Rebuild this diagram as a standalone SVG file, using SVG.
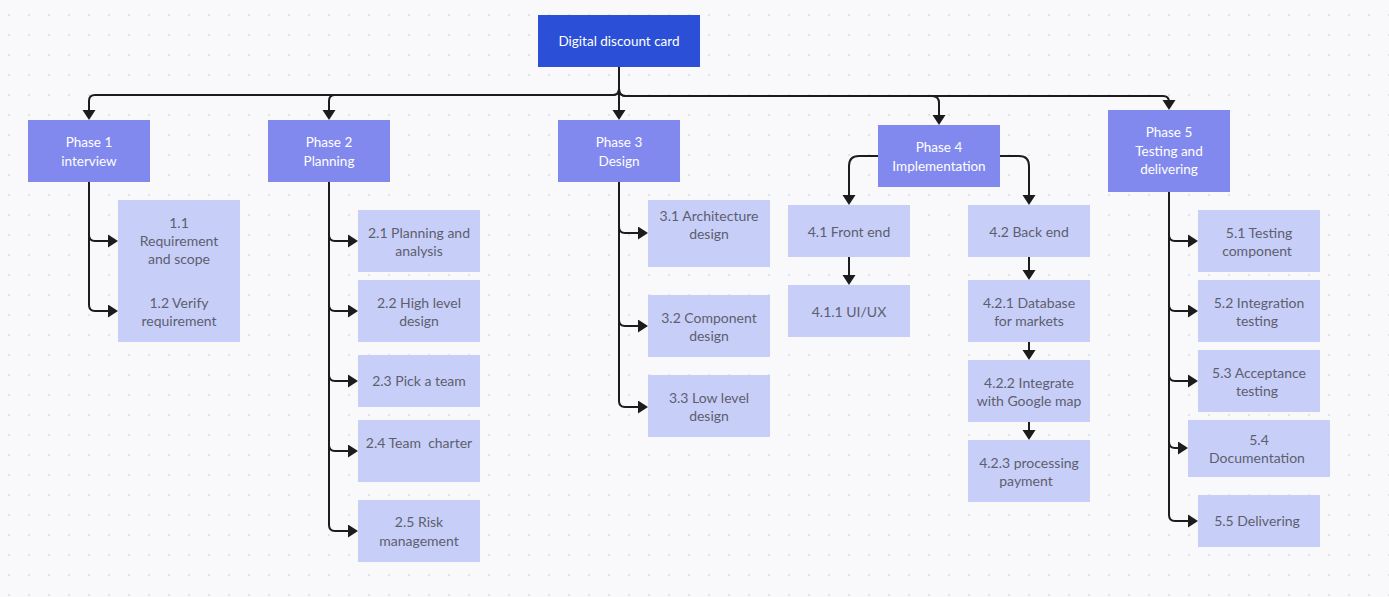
<svg xmlns="http://www.w3.org/2000/svg" width="1389" height="597" viewBox="0 0 1389 597">
  <defs>
    <pattern id="dots" x="-1" y="5" width="20" height="20" patternUnits="userSpaceOnUse">
      <circle cx="10" cy="10" r="1.1" fill="#dcdde6"/>
    </pattern>
    <marker id="arrow" markerWidth="13" markerHeight="14" refX="2" refY="6.5" orient="auto" markerUnits="userSpaceOnUse">
      <path d="M0,0 L10,6.5 L0,13 z" fill="#1c1c1c"/>
    </marker>
    <style>
      .root { fill: #2b4fd6; }
      .phase { fill: #8189ee; }
      .task { fill: #c7cff9; }
      .lbl-w { font-family: Lato, "Liberation Sans", sans-serif; font-size: 13.5px; fill: #ffffff; text-anchor: middle; }
      .lbl { font-family: Lato, "Liberation Sans", sans-serif; font-size: 14px; fill: #5e5e6e; text-anchor: middle; }
      .conn path { fill: none; stroke: #1c1c1c; stroke-width: 2; marker-end: url(#arrow); }
    </style>
  </defs>

  <!-- canvas -->
  <rect width="1389" height="597" fill="#f9f9fb"/>
  <rect width="1389" height="597" fill="url(#dots)"/>

  <!-- connectors -->
  <g id="connectors" class="conn">
    <!-- root to phases -->
    <path d="M619 67 V89 Q619 95 613 95 H95 Q89 95 89 101 V112"/>
    <path d="M619 67 V89 Q619 95 613 95 H335 Q329 95 329 101 V112"/>
    <path d="M619 67 V112"/>
    <path d="M619 67 V89 Q619 96 626 96 H932 Q939 96 939 103 V117"/>
    <path d="M619 67 V89 Q619 96 626 96 H1163 Q1169 96 1169 102"/>
    <!-- phase 1 -->
    <path d="M89 182 V235 Q89 241 95 241 H110"/>
    <path d="M89 182 V305 Q89 311 95 311 H110"/>
    <!-- phase 2 -->
    <path d="M329 182 V235 Q329 241 335 241 H350"/>
    <path d="M329 182 V305 Q329 311 335 311 H350"/>
    <path d="M329 182 V375 Q329 381 335 381 H350"/>
    <path d="M329 182 V445 Q329 451 335 451 H350"/>
    <path d="M329 182 V525 Q329 531 335 531 H350"/>
    <!-- phase 3 -->
    <path d="M619 182 V227 Q619 233 625 233 H640"/>
    <path d="M619 182 V320 Q619 326 625 326 H640"/>
    <path d="M619 182 V401 Q619 407 625 407 H640"/>
    <!-- phase 4 -->
    <path d="M878 156 H859 Q849 156 849 166 V197"/>
    <path d="M1000 156 H1019 Q1029 156 1029 166 V197"/>
    <path d="M849 257 V277"/>
    <path d="M1029 257 V272"/>
    <path d="M1029 342 V352"/>
    <path d="M1029 422 V432"/>
    <!-- phase 5 -->
    <path d="M1169 192 V235 Q1169 241 1175 241 H1190"/>
    <path d="M1169 192 V305 Q1169 311 1175 311 H1190"/>
    <path d="M1169 192 V375 Q1169 381 1175 381 H1190"/>
    <path d="M1169 192 V442 Q1169 448 1175 448 H1180"/>
    <path d="M1169 192 V515 Q1169 521 1175 521 H1190"/>
  </g>

  <!-- root -->
  <g id="root">
    <rect class="root" x="538" y="15" width="162" height="52"/>
    <text class="lbl-w" x="619" y="46">Digital discount card</text>
  </g>

  <!-- phases -->
  <g id="phase1">
    <rect class="phase" x="28" y="120" width="122" height="62"/>
    <text class="lbl-w" x="89" y="147">Phase 1</text>
    <text class="lbl-w" x="89" y="166">interview</text>
  </g>
  <g id="phase2">
    <rect class="phase" x="268" y="120" width="122" height="62"/>
    <text class="lbl-w" x="329" y="147">Phase 2</text>
    <text class="lbl-w" x="329" y="166">Planning</text>
  </g>
  <g id="phase3">
    <rect class="phase" x="558" y="120" width="122" height="62"/>
    <text class="lbl-w" x="619" y="147">Phase 3</text>
    <text class="lbl-w" x="619" y="166">Design</text>
  </g>
  <g id="phase4">
    <rect class="phase" x="878" y="125" width="122" height="62"/>
    <text class="lbl-w" x="939" y="152">Phase 4</text>
    <text class="lbl-w" x="939" y="171">Implementation</text>
  </g>
  <g id="phase5">
    <rect class="phase" x="1108" y="110" width="122" height="82"/>
    <text class="lbl-w" x="1169" y="137">Phase 5</text>
    <text class="lbl-w" x="1169" y="156">Testing and</text>
    <text class="lbl-w" x="1169" y="174">delivering</text>
  </g>

  <!-- phase 1 tasks -->
  <g id="t1-1">
    <rect class="task" x="118" y="200" width="122" height="71"/>
    <text class="lbl" x="179" y="228">1.1</text>
    <text class="lbl" x="179" y="246">Requirement</text>
    <text class="lbl" x="179" y="264">and scope</text>
  </g>
  <g id="t1-2">
    <rect class="task" x="118" y="271" width="122" height="71"/>
    <text class="lbl" x="179" y="308">1.2 Verify</text>
    <text class="lbl" x="179" y="326">requirement</text>
  </g>

  <!-- phase 2 tasks -->
  <g id="t2-1">
    <rect class="task" x="358" y="210" width="122" height="62"/>
    <text class="lbl" x="419" y="238">2.1 Planning and</text>
    <text class="lbl" x="419" y="256">analysis</text>
  </g>
  <g id="t2-2">
    <rect class="task" x="358" y="280" width="122" height="62"/>
    <text class="lbl" x="419" y="308">2.2 High level</text>
    <text class="lbl" x="419" y="326">design</text>
  </g>
  <g id="t2-3">
    <rect class="task" x="358" y="355" width="122" height="52"/>
    <text class="lbl" x="419" y="386">2.3 Pick a team</text>
  </g>
  <g id="t2-4">
    <rect class="task" x="358" y="420" width="122" height="62"/>
    <text class="lbl" x="419" y="448" xml:space="preserve">2.4 Team  charter</text>
  </g>
  <g id="t2-5">
    <rect class="task" x="358" y="500" width="122" height="62"/>
    <text class="lbl" x="419" y="527">2.5 Risk</text>
    <text class="lbl" x="419" y="546">management</text>
  </g>

  <!-- phase 3 tasks -->
  <g id="t3-1">
    <rect class="task" x="648" y="200" width="122" height="67"/>
    <text class="lbl" x="709" y="221">3.1 Architecture</text>
    <text class="lbl" x="709" y="239">design</text>
  </g>
  <g id="t3-2">
    <rect class="task" x="648" y="295" width="122" height="62"/>
    <text class="lbl" x="709" y="323">3.2 Component</text>
    <text class="lbl" x="709" y="341">design</text>
  </g>
  <g id="t3-3">
    <rect class="task" x="648" y="375" width="122" height="62"/>
    <text class="lbl" x="709" y="403">3.3 Low level</text>
    <text class="lbl" x="709" y="421">design</text>
  </g>

  <!-- phase 4 tasks -->
  <g id="t4-1">
    <rect class="task" x="788" y="205" width="122" height="52"/>
    <text class="lbl" x="849" y="237">4.1 Front end</text>
  </g>
  <g id="t4-1-1">
    <rect class="task" x="788" y="285" width="122" height="52"/>
    <text class="lbl" x="849" y="317">4.1.1 UI/UX</text>
  </g>
  <g id="t4-2">
    <rect class="task" x="968" y="205" width="122" height="52"/>
    <text class="lbl" x="1029" y="237">4.2 Back end</text>
  </g>
  <g id="t4-2-1">
    <rect class="task" x="968" y="280" width="122" height="62"/>
    <text class="lbl" x="1029" y="308">4.2.1 Database</text>
    <text class="lbl" x="1029" y="326">for markets</text>
  </g>
  <g id="t4-2-2">
    <rect class="task" x="968" y="360" width="122" height="62"/>
    <text class="lbl" x="1029" y="388">4.2.2 Integrate</text>
    <text class="lbl" x="1029" y="406">with Google map</text>
  </g>
  <g id="t4-2-3">
    <rect class="task" x="968" y="440" width="122" height="62"/>
    <text class="lbl" x="1029" y="468">4.2.3 processing</text>
    <text class="lbl" x="1026" y="486">payment</text>
  </g>

  <!-- phase 5 tasks -->
  <g id="t5-1">
    <rect class="task" x="1198" y="210" width="122" height="62"/>
    <text class="lbl" x="1259" y="238">5.1 Testing</text>
    <text class="lbl" x="1257" y="256">component</text>
  </g>
  <g id="t5-2">
    <rect class="task" x="1198" y="280" width="122" height="62"/>
    <text class="lbl" x="1259" y="308">5.2 Integration</text>
    <text class="lbl" x="1257" y="326">testing</text>
  </g>
  <g id="t5-3">
    <rect class="task" x="1198" y="350" width="122" height="62"/>
    <text class="lbl" x="1259" y="378">5.3 Acceptance</text>
    <text class="lbl" x="1257" y="396">testing</text>
  </g>
  <g id="t5-4">
    <rect class="task" x="1188" y="420" width="142" height="57"/>
    <text class="lbl" x="1259" y="445">5.4</text>
    <text class="lbl" x="1257" y="463">Documentation</text>
  </g>
  <g id="t5-5">
    <rect class="task" x="1198" y="495" width="122" height="52"/>
    <text class="lbl" x="1257" y="526">5.5 Delivering</text>
  </g>
</svg>
